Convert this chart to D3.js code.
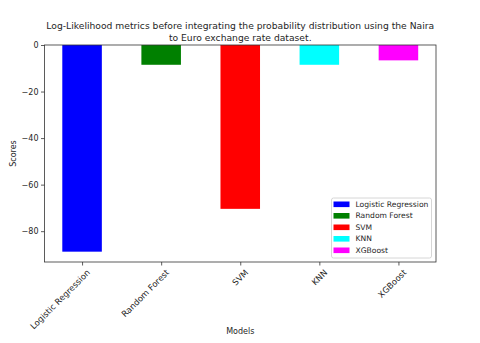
<!DOCTYPE html>
<html>
<head>
<meta charset="utf-8">
<script src="https://cdn.jsdelivr.net/npm/d3@7"></script>
<style>
  body { margin: 0; background: #fff; }
  text { font-family: "DejaVu Sans", sans-serif; fill: #262626; }
</style>
</head>
<body>
<div id="app"></div>
<script>
const models = ['Logistic Regression', 'Random Forest', 'SVM', 'KNN', 'XGBoost'];
const scores = [-88.8, -8.5, -70.4, -8.5, -6.6];
const colors = ['#0000ff', '#008000', '#ff0000', '#00ffff', '#ff00ff'];
const yTicks = [0, -20, -40, -60, -80];
const titleLines = [
  'Log-Likelihood metrics before integrating the probability distribution using the Naira',
  'to Euro exchange rate dataset.',
];

const width = 480;
const height = 343;
const margin = { top: 45, right: 44, bottom: 81, left: 44.5 };
const plotW = width - margin.left - margin.right;
const plotH = height - margin.top - margin.bottom;

const svg = d3.select('#app').append('svg')
  .attr('width', width)
  .attr('height', height);

const g = svg.append('g')
  .attr('transform', `translate(${margin.left},${margin.top})`);

// matplotlib style: bar width 0.5, 5% margins on x, sticky zero on y
const minVal = d3.min(scores);
const x = d3.scaleLinear().domain([-0.475, models.length - 1 + 0.475]).range([0, plotW]);
const y = d3.scaleLinear().domain([minVal * 1.05, 0]).range([plotH, 0]);

g.selectAll('rect.bar')
  .data(scores)
  .enter()
  .append('rect')
  .attr('class', 'bar')
  .attr('x', (d, i) => x(i - 0.25))
  .attr('width', (d, i) => x(i + 0.25) - x(i - 0.25))
  .attr('y', d => y(0))
  .attr('height', d => y(d) - y(0))
  .attr('fill', (d, i) => colors[i]);

// y axis
const yAxis = d3.axisLeft(y)
  .tickValues(yTicks)
  .tickSize(3.5)
  .tickPadding(2.5)
  .tickFormat(d => (d < 0 ? '\u2212' + Math.abs(d) : d));
const yAxisG = g.append('g').call(yAxis);
yAxisG.select('.domain').remove();
yAxisG.selectAll('line').attr('stroke', '#333').attr('stroke-width', 0.8);
yAxisG.selectAll('text').attr('font-size', 8).attr('fill', '#262626');

// x axis
const xAxis = d3.axisBottom(x)
  .tickValues(d3.range(models.length))
  .tickSize(3.5)
  .tickPadding(2)
  .tickFormat(i => models[i]);
const xAxisG = g.append('g').attr('transform', `translate(0,${plotH})`).call(xAxis);
xAxisG.select('.domain').remove();
xAxisG.selectAll('line').attr('stroke', '#333').attr('stroke-width', 0.8);
xAxisG.selectAll('text')
  .attr('font-size', 8.4)
  .attr('fill', '#262626')
  .attr('text-anchor', 'end')
  .attr('dy', '0.7em')
  .attr('transform', 'translate(0,3) rotate(-45)');

// frame
g.append('rect')
  .attr('width', plotW)
  .attr('height', plotH)
  .attr('fill', 'none')
  .attr('stroke', '#333')
  .attr('stroke-width', 0.8);

// title
svg.append('text')
  .attr('x', margin.left + plotW / 2)
  .attr('y', 29)
  .attr('text-anchor', 'middle')
  .attr('font-size', 9.2)
  .selectAll('tspan')
  .data(titleLines)
  .enter()
  .append('tspan')
  .attr('x', margin.left + plotW / 2)
  .attr('dy', (d, i) => (i === 0 ? 0 : 12))
  .text(d => d);

// axis labels
svg.append('text')
  .attr('x', margin.left + plotW / 2)
  .attr('y', 334)
  .attr('text-anchor', 'middle')
  .attr('font-size', 8)
  .text('Models');

svg.append('text')
  .attr('transform', `translate(16,${margin.top + plotH / 2}) rotate(-90)`)
  .attr('text-anchor', 'middle')
  .attr('font-size', 8)
  .text('Scores');

// legend
const legend = g.append('g')
  .attr('transform', `translate(${plotW - 104.5},${plotH - 64})`);
legend.append('rect')
  .attr('width', 100)
  .attr('height', 60)
  .attr('rx', 2)
  .attr('fill', '#fff')
  .attr('fill-opacity', 0.8)
  .attr('stroke', '#ccc')
  .attr('stroke-width', 0.8);
const items = legend.selectAll('g.item')
  .data(models)
  .enter()
  .append('g')
  .attr('class', 'item')
  .attr('transform', (d, i) => `translate(0,${6.3 + i * 11.5})`);
items.append('rect')
  .attr('x', 2)
  .attr('y', -2.8)
  .attr('width', 16)
  .attr('height', 5.6)
  .attr('fill', (d, i) => colors[i]);
items.append('text')
  .attr('x', 24)
  .attr('dy', '0.35em')
  .attr('font-size', 7.6)
  .text(d => d);
</script>
</body>
</html>
